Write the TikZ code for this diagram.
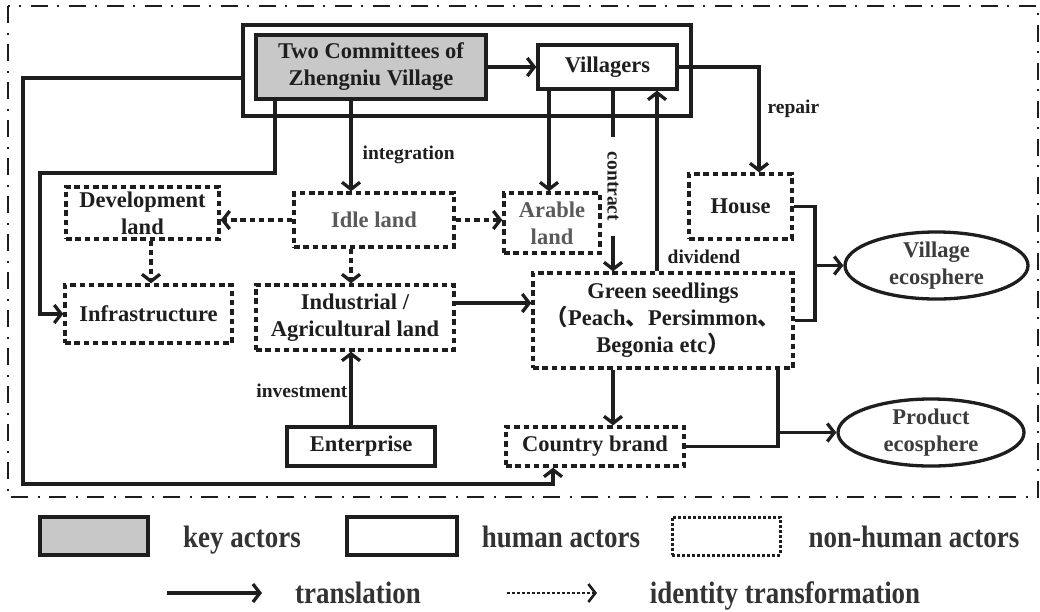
\documentclass[tikz,border=0pt]{standalone}
\usepackage{graphicx}
\usepackage{fontspec}
\setmainfont{Liberation Serif}
\newfontfamily\cjk{Noto Sans CJK SC}
\usetikzlibrary{arrows.meta,shapes.geometric}
\definecolor{ink}{HTML}{1E1E1E}
\definecolor{soft}{HTML}{5A5A5A}
\definecolor{ecoink}{HTML}{3C3C3C}
\definecolor{keygray}{HTML}{C8C8C8}
\definecolor{leg}{HTML}{333333}
\newcommand\legtxt[1]{\scalebox{0.87}[1]{#1}}

\begin{document}
\begin{tikzpicture}[x=1pt,y=-1pt,
  every node/.style={font=\fontsize{22.5}{27}\selectfont\bfseries, text=ink, align=center, inner sep=0pt},
  base/.style={line width=3.3pt, draw=ink},
  keybox/.style={base, rectangle, fill=keygray},
  humbox/.style={base, rectangle},
  thingbox/.style={base, rectangle, dash pattern=on 5.5pt off 3.8pt},
  eco/.style={base, ellipse, text=ecoink},
  tr/.style={line width=3.3pt, draw=ink, -{Straight Barb[length=7pt,width=18pt]}},
  idt/.style={tr, dash pattern=on 5.5pt off 3.8pt},
  plain/.style={line width=3.3pt, draw=ink},
  lab/.style={font=\fontsize{19.5}{22}\selectfont\bfseries},
  legtext/.style={font=\fontsize{31}{31}\selectfont\bfseries, text=leg, anchor=base},
]
\useasboundingbox (0,0) rectangle (1040,611);

% outer dash-dot frame
\draw[line width=2pt, draw=ink, dash pattern=on 17pt off 10pt on 2pt off 9pt]
  (8,6) rectangle (1038,497);

% actors
\node[humbox, minimum width=448pt, minimum height=91pt] (grp) at (467,70.5) {};
\node[keybox, minimum width=230pt, minimum height=64pt] (key) at (371,67) {Two Committees of\\Zhengniu Village};
\node[humbox, minimum width=139pt, minimum height=44pt] (vill) at (607.5,67) {Villagers};
\node[thingbox, minimum width=160pt, minimum height=54pt, text=soft] (idle) at (374,220) {Idle land};
\node[thingbox, minimum width=153pt, minimum height=52pt] (dev) at (142.5,213) {Development\\land};
\node[thingbox, minimum width=96pt, minimum height=60pt, text=soft] (arable) at (552,223) {Arable\\land};
\node[thingbox, minimum width=103pt, minimum height=65pt] (house) at (740.5,206.5) {House};
\node[thingbox, minimum width=167pt, minimum height=58pt] (infra) at (148.5,314) {Infrastructure};
\node[thingbox, minimum width=198pt, minimum height=65pt] (ind) at (355,317.5) {Industrial /\\Agricultural land};
\node[thingbox, minimum width=260pt, minimum height=95pt] (gs) at (663,320.5)
  {Green seedlings\\{\cjk （}Peach{\cjk 、}Persimmon{\cjk 、}\\Begonia etc{\cjk ）}};
\node[humbox, minimum width=148pt, minimum height=39pt] (ent) at (361,446.5) {Enterprise};
\node[thingbox, minimum width=178pt, minimum height=39pt] (brand) at (595,446.5) {Country brand};
\node[eco, minimum width=183pt, minimum height=65pt] (veco) at (936.5,265.5) {Village\\ecosphere};
\node[eco, minimum width=186pt, minimum height=65pt] (peco) at (931,432.5) {Product\\ecosphere};

% guide coordinates for the connector routes
\coordinate (x23) at (23,0);
\coordinate (x40) at (40,0);
\coordinate (x151) at (151,0);
\coordinate (x275) at (275,0);
\coordinate (x351) at (351,0);
\coordinate (x549) at (549,0);
\coordinate (x553) at (553,0);
\coordinate (x613) at (613,0);
\coordinate (x657) at (657,0);
\coordinate (x759) at (759,0);
\coordinate (x778) at (778,0);
\coordinate (x815) at (815,0);
\coordinate (y78) at (0,78);
\coordinate (y173) at (0,173);
\coordinate (y303) at (0,303);
\coordinate (y484) at (0,484);

% translations
\draw[tr] (key.east) -- (vill.west);
\draw[tr] (grp.west |- y78) -- (x23 |- y78) -- (x23 |- y484) -- (x553 |- y484) -- (brand.south -| x553);
\draw[tr] (key.south -| x275) -- (x275 |- y173) -- (x40 |- y173) |- (infra.west);
\draw[tr] (key.south -| x351) -- node[lab, right=10pt, pos=0.6] {integration} (idle.north -| x351);
\draw[tr] (vill.south -| x549) -- (arable.north -| x549);
\draw[tr] (vill.south -| x613) -- node[lab, rotate=-90, fill=white, inner xsep=15pt, inner ysep=3pt, pos=0.53] {contract} (gs.north -| x613);
\draw[tr] (gs.north -| x657) -- node[lab, pos=0.08, anchor=west, xshift=9pt] {dividend} (vill.south -| x657);
\draw[tr] (vill.east) -| node[lab, pos=0.7, right=7pt] {repair} (house.north -| x759);
\draw[plain] (house.east) -| (x815 |- gs.east) -- (gs.east);
\draw[tr] (x815 |- veco.west) -- (veco.west);
\draw[tr] (ind.east |- y303) -- (gs.west |- y303);
\draw[tr] (ent.north -| x351) -- node[lab, left=2pt, pos=0.47] {investment} (ind.south -| x351);
\draw[tr] (gs.south -| x613) -- (brand.north -| x613);
\draw[plain] (brand.east) -| (gs.south -| x778);
\draw[tr] (x778 |- peco.west) -- (peco.west);

% identity transformations
\draw[idt] (idle.west) -- (idle.west -| dev.east);
\draw[idt] (idle.east) -- (idle.east -| arable.west);
\draw[idt] (idle.south -| x351) -- (ind.north -| x351);
\draw[idt] (dev.south -| x151) -- (infra.north -| x151);

% legend
\node[keybox, minimum width=108pt, minimum height=38pt] (lkey) at (94,536) {};
\node[legtext] (tkey) at (242,547) {\legtxt{key actors}};
\node[humbox, minimum width=110pt, minimum height=38pt] (lhum) at (402,536) {};
\node[legtext] (thum) at (561,547) {\legtxt{human actors}};
\node[base, rectangle, line width=3pt, dash pattern=on 3pt off 2pt, minimum width=108pt, minimum height=38pt] (lnon) at (726,536) {};
\node[legtext] (tnon) at (914,547) {\legtxt{non-human actors}};
\coordinate (la1) at (167,593);
\coordinate (la2) at (262,593);
\coordinate (lb1) at (507,593);
\coordinate (lb2) at (597,593);
\draw[tr] (la1) -- (la2);
\node[legtext] (ttr) at (358,603) {\legtxt{translation}};
\draw[tr, line width=2.6pt, dash pattern=on 3pt off 2pt] (lb1) -- (lb2);
\node[legtext] (tid) at (785,603) {\legtxt{identity transformation}};
\end{tikzpicture}
\end{document}
